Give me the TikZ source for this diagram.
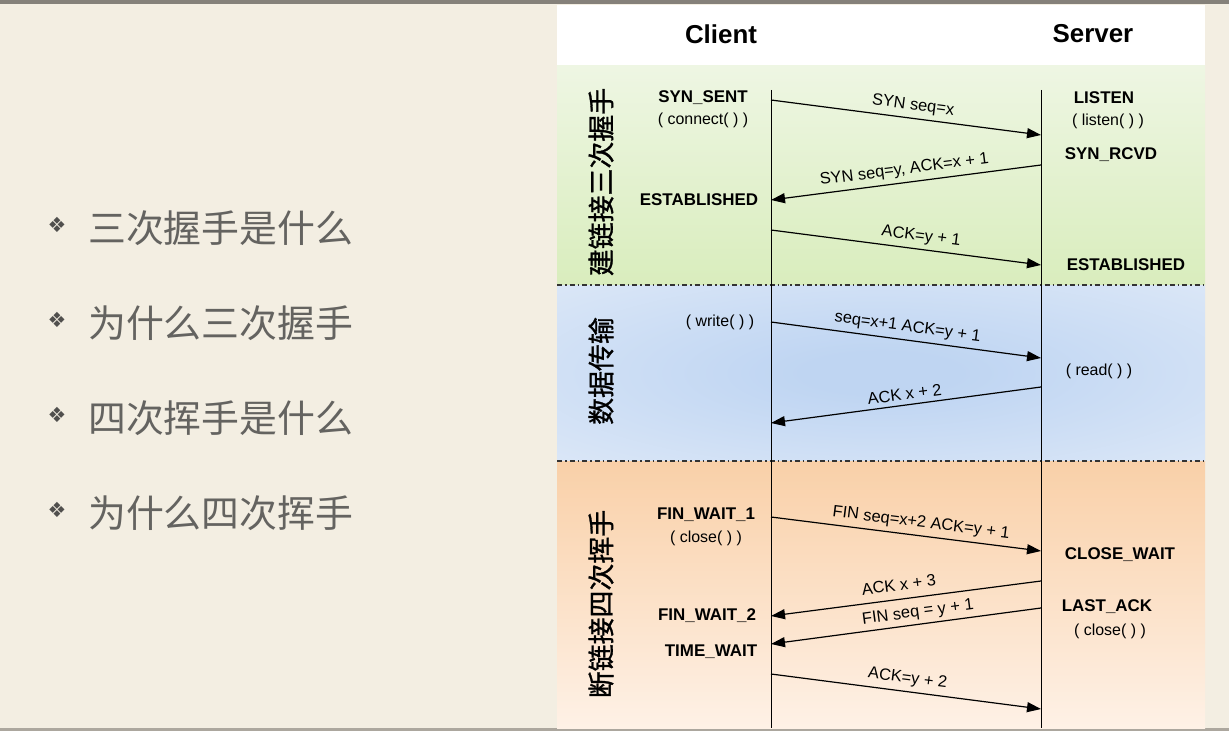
\documentclass[tikz,border=0pt]{standalone}
\usepackage{fontspec}
\setmainfont{Liberation Sans}
\newfontfamily\cjk{Noto Sans CJK SC}
\newfontfamily\cjkheavy{Noto Sans CJK SC}[FakeBold=1.2]
\newfontfamily\symfont{DejaVu Sans}
\usetikzlibrary{arrows.meta}
\definecolor{paper}{HTML}{F3EEE2}
\definecolor{rim}{HTML}{85817A}
\definecolor{bullettext}{HTML}{646360}
\definecolor{greenA}{HTML}{EEF6E3}
\definecolor{greenB}{HTML}{D9EDBD}
\definecolor{blueIn}{HTML}{BFD5F2}
\definecolor{blueOut}{HTML}{E6EEF9}
\definecolor{orangeA}{HTML}{F9D0A8}
\definecolor{orangeB}{HTML}{FEF1E6}
% soft blue glow for the data band
\pgfdeclareradialshading{bluefield}{\pgfpoint{0bp}{0bp}}{%
  color(0bp)=(blueIn); color(6bp)=(blueIn); color(48bp)=(blueOut); color(50bp)=(blueOut)}
\begin{document}
\begin{tikzpicture}[x=1bp,y=1bp,
  state/.style={font=\fontsize{17}{20}\selectfont\bfseries, inner sep=0pt},
  call/.style={font=\fontsize{16}{20}\selectfont, inner sep=0pt},
  title/.style={font=\fontsize{26}{30}\selectfont\bfseries, inner sep=0pt},
  phase/.style={font=\cjkheavy\fontsize{27}{30}\selectfont, rotate=90, inner sep=0pt},
  item/.style={font=\cjk\fontsize{38}{42}\selectfont, text=bullettext, anchor=west, inner sep=0pt},
  itemmark/.style={font=\symfont\fontsize{21}{24}\selectfont, text=bullettext!80!black, inner sep=0pt},
  lifeline/.style={line width=1bp, black},
  divider/.style={line width=1.2bp, black!80, dash pattern=on 5bp off 3bp on 1.5bp off 3bp},
  msg/.style={line width=1.2bp, -{Triangle[length=14bp,width=10bp]}},
  msglabel/.style={font=\fontsize{16.5}{20}\selectfont, sloped, above, inner sep=4.5bp}]
\useasboundingbox (0,0) rectangle (1229,-731);

% paper background and its rims
\fill[paper] (0,0) rectangle (1229,-731);
\fill[rim] (0,0) rectangle (1229,-4);
\fill[rim!65!paper] (0,-728) rectangle (1229,-731);

% outline list
\foreach \yy/\txt in {228/三次握手是什么, 323/为什么三次握手, 418/四次挥手是什么, 513/为什么四次挥手}{
  \node[itemmark] at (57,-\yy+3) {❖};
  \node[item] at (88,-\yy) {\txt};
}

% diagram panel: header and three phase bands
\fill[white] (557,-5) rectangle (1205,-66);
\shade[top color=greenA, bottom color=greenB] (557,-66) rectangle (1205,-285);
\shade[shading=bluefield] (557,-285) rectangle (1205,-461);
\shade[top color=orangeA, bottom color=orangeB] (557,-461) rectangle (1205,-728);

\draw[divider] (557,-285) -- (1205,-285);
\draw[divider] (557,-461) -- (1205,-461);

% column titles
\node[title] (client) at (721,-34) {Client};
\node[title] (server) at (1093,-34) {Server};

% lifelines
\coordinate (ctop) at (771,-90);
\coordinate (cbot) at (771,-728);
\coordinate (stop) at (1041,-90);
\coordinate (sbot) at (1041,-728);
\draw[lifeline] (ctop) -- (cbot);
\draw[lifeline] (stop) -- (sbot);

% phase labels
\node[phase] (p1) at (601,-182) {建链接三次握手};
\node[phase] (p2) at (601,-371) {数据传输};
\node[phase] (p3) at (601,-604) {断链接四次挥手};

% client states
\node[state] (synsent) at (703,-98) {SYN\_SENT};
\node[call] (connect) at (703,-120) {( connect( ) )};
\node[state] (cest) at (699,-200) {ESTABLISHED};
\node[call] (write) at (720,-322) {( write( ) )};
\node[state] (fw1) at (706,-515) {FIN\_WAIT\_1};
\node[call] (cclose) at (706,-538) {( close( ) )};
\node[state] (fw2) at (707,-616) {FIN\_WAIT\_2};
\node[state] (tw) at (711,-652) {TIME\_WAIT};

% server states
\node[state] (listen) at (1104,-98) {LISTEN};
\node[call] (listencall) at (1108,-121) {( listen( ) )};
\node[state] (synrcvd) at (1111,-155) {SYN\_RCVD};
\node[state] (sest) at (1126,-265) {ESTABLISHED};
\node[call] (read) at (1099,-371) {( read( ) )};
\node[state] (cw) at (1120,-555) {CLOSE\_WAIT};
\node[state] (lastack) at (1107,-607) {LAST\_ACK};
\node[call] (sclose) at (1110,-631) {( close( ) )};

% message end points on the lifelines
\coordinate (c1) at (771,-100);  \coordinate (s1) at (1041,-135);
\coordinate (s2) at (1041,-165); \coordinate (c2) at (771,-200);
\coordinate (c3) at (771,-230);  \coordinate (s3) at (1041,-265);
\coordinate (c4) at (771,-322);  \coordinate (s4) at (1041,-358);
\coordinate (s5) at (1041,-387); \coordinate (c5) at (771,-423);
\coordinate (c6) at (771,-517);  \coordinate (s6) at (1041,-551);
\coordinate (s7) at (1041,-581); \coordinate (c7) at (771,-616);
\coordinate (s8) at (1041,-608); \coordinate (c8) at (771,-644);
\coordinate (c9) at (771,-674);  \coordinate (s9) at (1041,-709);

% messages
\draw[msg] (c1) -- node[msglabel, pos=0.52] {SYN seq=x} (s1);
\draw[msg] (s2) -- node[msglabel, pos=0.5] {SYN seq=y, ACK=x + 1} (c2);
\draw[msg] (c3) -- node[msglabel, pos=0.55] {ACK=y + 1} (s3);
\draw[msg] (c4) -- node[msglabel, pos=0.5] {seq=x+1 ACK=y + 1} (s4);
\draw[msg] (s5) -- node[msglabel, pos=0.5] {ACK x + 2} (c5);
\draw[msg] (c6) -- node[msglabel, pos=0.55] {FIN seq=x+2 ACK=y + 1} (s6);
\draw[msg] (s7) -- node[msglabel, pos=0.52, inner sep=8bp] {ACK x + 3} (c7);
\draw[msg] (s8) -- node[msglabel, pos=0.45, inner sep=3.5bp] {FIN seq = y + 1} (c8);
\draw[msg] (c9) -- node[msglabel, pos=0.5] {ACK=y + 2} (s9);
\end{tikzpicture}
\end{document}
